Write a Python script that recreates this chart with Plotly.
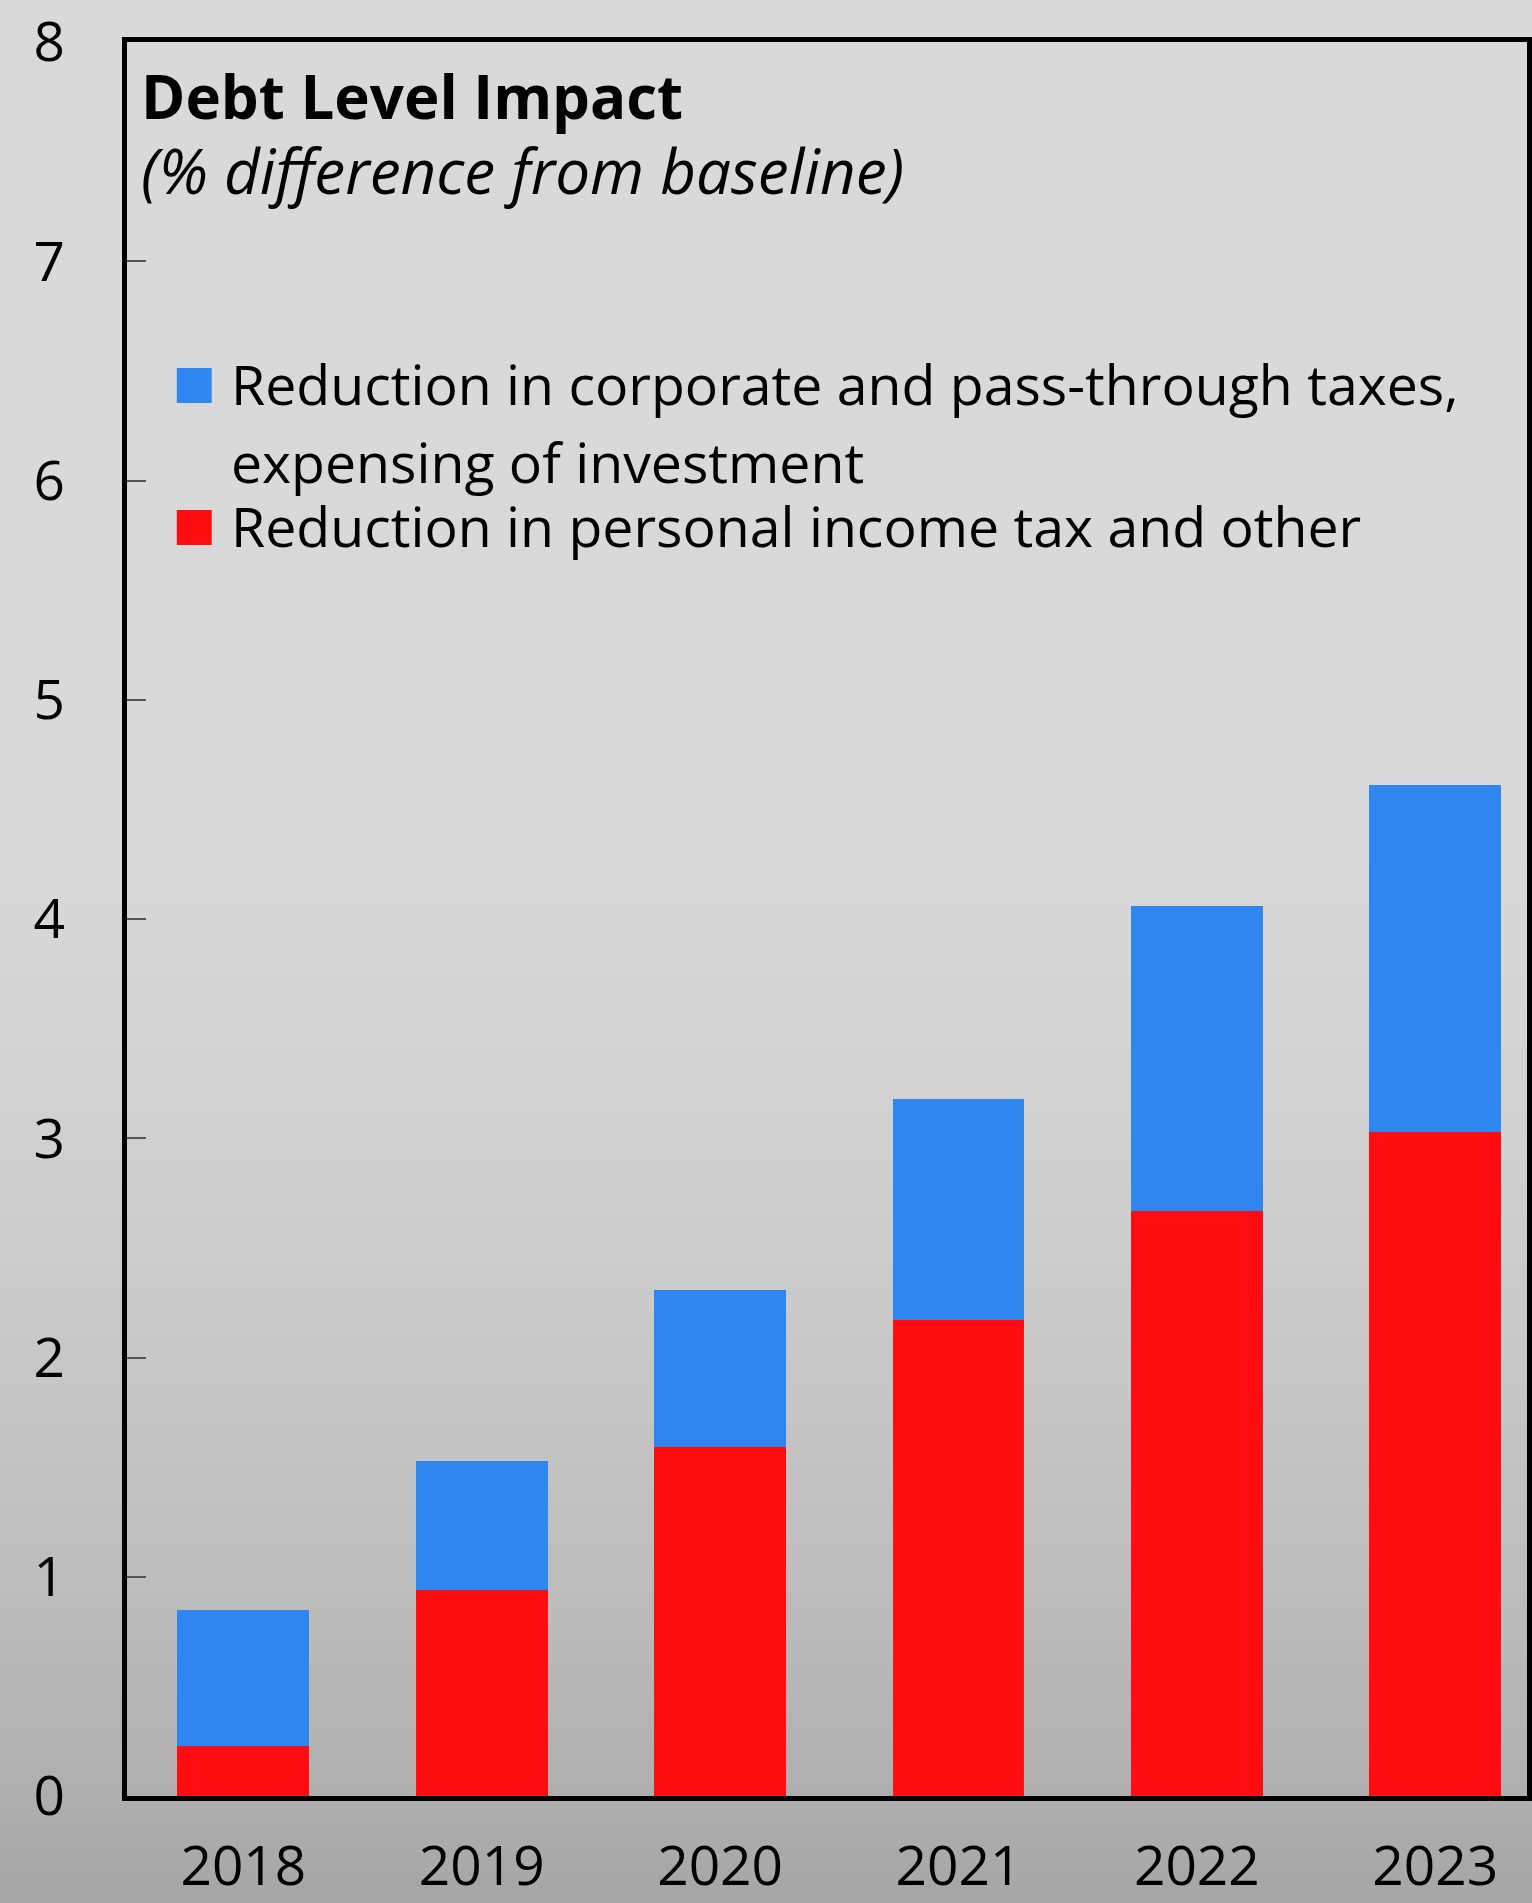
import plotly.graph_objects as go

# Debt level impact by year, % difference from baseline
years = ["2018", "2019", "2020", "2021", "2022", "2023"]
personal_other = [0.23, 0.94, 1.59, 2.17, 2.67, 3.03]
corporate_expensing = [0.62, 0.59, 0.72, 1.01, 1.39, 1.58]

series_names = [
    "Reduction in corporate and pass-through taxes,<br>expensing of investment",
    "Reduction in personal income tax and other",
]
y_ticks = [0, 1, 2, 3, 4, 5, 6, 7, 8]

BLUE = "#2e86ee"
RED = "#ff0d10"
FONT = "Open Sans, Noto Sans, sans-serif"

W, H = 1532, 1903
PL, PR, PT, PB = 127, 1532, 42, 1796  # plot area edges in pixels


def px_x(x):
    return (x - PL) / (PR - PL)


def px_y(y):
    return (PB - y) / (PB - PT)


fig = go.Figure()
fig.add_trace(go.Bar(
    x=years, y=personal_other, name=series_names[1],
    marker=dict(color=RED, line=dict(width=0)), width=0.553,
    showlegend=False,
))
fig.add_trace(go.Bar(
    x=years, y=corporate_expensing, name=series_names[0],
    marker=dict(color=BLUE, line=dict(width=0)), width=0.553,
    showlegend=False,
))

# vertical background gradient (flat light grey, darkening toward the bottom)
stops = [(0, 217), (850, 217), (1100, 210), (1350, 200), (1600, 188), (1750, 178), (1903, 166)]
shapes = []
step = 8
y = 0
while y < H:
    yc = y + step / 2
    for (y0, g0), (y1, g1) in zip(stops[:-1], stops[1:]):
        if y0 <= yc <= y1:
            g = g0 + (g1 - g0) * (yc - y0) / (y1 - y0)
            break
    g = int(round(g))
    shapes.append(dict(
        type="rect", xref="paper", yref="paper", layer="below",
        x0=px_x(-5), x1=px_x(W + 5), y0=px_y(min(y + step + 1, H + 5)), y1=px_y(y),
        fillcolor=f"rgb({g},{g},{g})", line=dict(width=0),
    ))
    y += step

# legend swatches
for (top, color) in [(368, BLUE), (510, RED)]:
    shapes.append(dict(
        type="rect", xref="paper", yref="paper",
        x0=px_x(177), x1=px_x(212), y0=px_y(top + 35), y1=px_y(top),
        fillcolor=color, line=dict(width=0),
    ))

title_text = (
    "<span style='font-size:60px'><b>Debt Level Impact</b></span><br>"
    "<span style='font-size:62px'><i>(% difference from baseline)</i></span>"
)

annotations = [
    dict(text=title_text, x=px_x(139), y=px_y(53), yanchor="top", align="left",
         font=dict(size=58, color="black", family=FONT)),
    dict(text="Reduction in corporate and pass-through taxes,", x=px_x(229), y=px_y(383.7),
         font=dict(size=55.4, color="black", family=FONT)),
    dict(text="expensing of investment", x=px_x(229), y=px_y(461.7),
         font=dict(size=55.4, color="black", family=FONT)),
    dict(text=series_names[1], x=px_x(229), y=px_y(525.7),
         font=dict(size=55.4, color="black", family=FONT)),
]
for a in annotations:
    a.setdefault("yanchor", "middle")
    a.update(xref="paper", yref="paper", xanchor="left", showarrow=False)

fig.update_layout(
    width=W, height=H,
    margin=dict(l=PL, r=W - PR, t=PT, b=H - PB, pad=0),
    barmode="stack",
    paper_bgcolor="rgb(217,217,217)",
    plot_bgcolor="rgba(0,0,0,0)",
    font=dict(family=FONT, color="black", size=55),
    shapes=shapes,
    annotations=annotations,
    showlegend=False,
)
fig.update_xaxes(
    range=[-0.488, 5.385], showgrid=False, zeroline=False,
    showline=True, linecolor="black", linewidth=5, mirror=True,
    ticks="", tickfont=dict(size=55), ticklabelstandoff=18,
)
fig.update_yaxes(
    range=[0, 8.0005], tickvals=y_ticks, ticktext=[str(v) for v in y_ticks],
    showgrid=False, zeroline=False,
    showline=True, linecolor="black", linewidth=5, mirror=True,
    ticks="inside", ticklen=19, tickwidth=1.5, tickcolor="#555555",
    tickfont=dict(size=55), ticklabelstandoff=46,
)

fig.write_html("out.html")
